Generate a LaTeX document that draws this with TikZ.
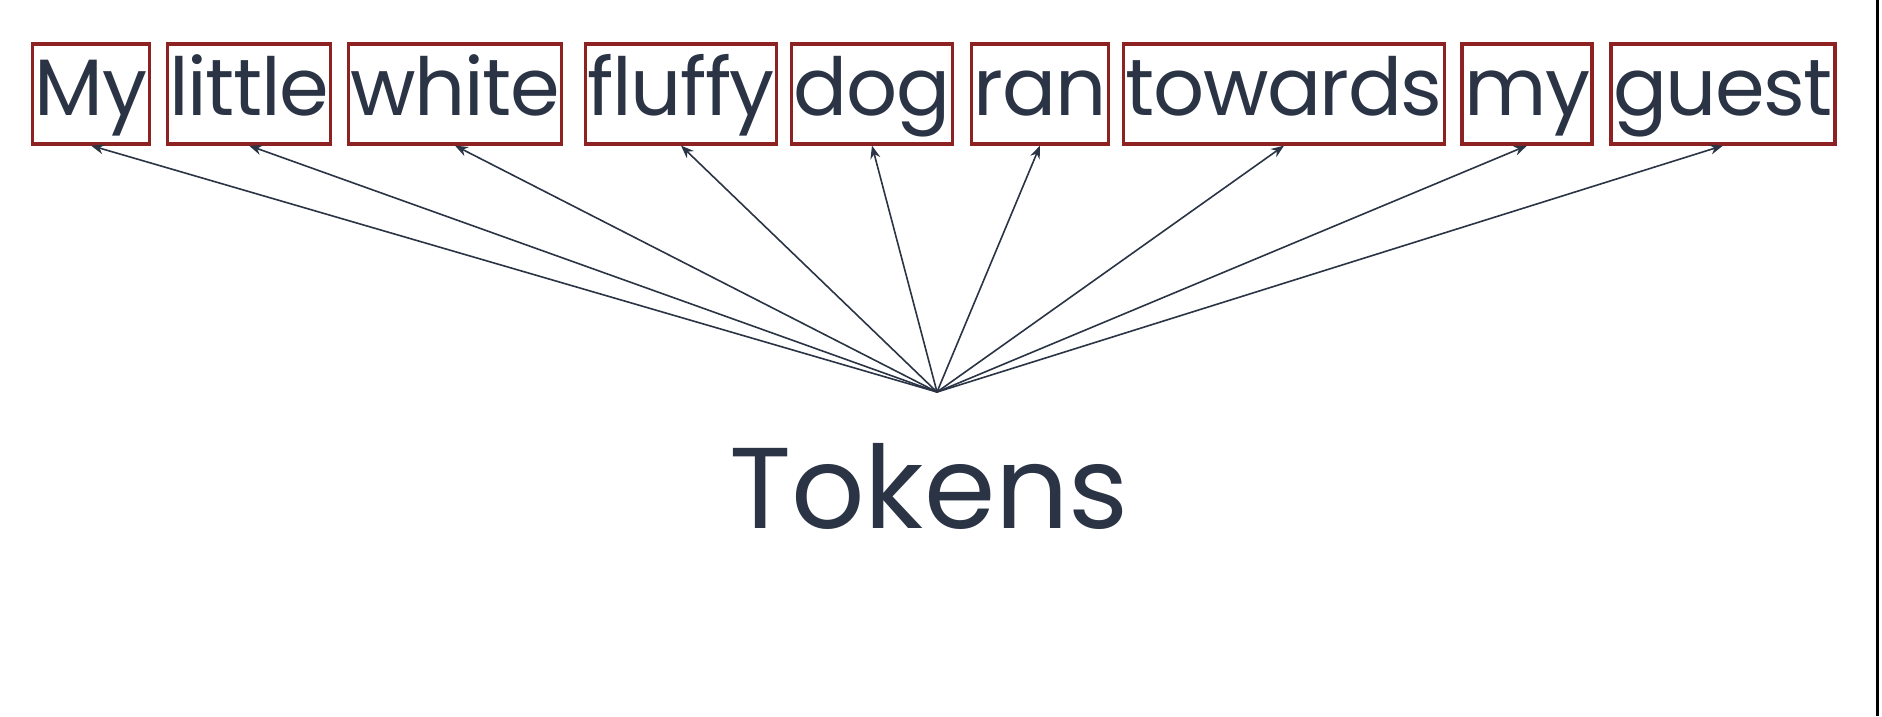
\documentclass[tikz,border=0pt]{standalone}
\usepackage{fontspec}
\setmainfont{Poppins}
\usepackage{xcolor}
\usetikzlibrary{arrows.meta}

\definecolor{inkblue}{HTML}{2B3445}
\definecolor{boxred}{HTML}{8E2222}

\begin{document}
\begin{tikzpicture}[
            x=1pt, y=-1pt,
            word/.style={draw=boxred, line width=3.2pt, text=inkblue,
                inner xsep=2pt, inner ysep=0pt, text height=71pt, text depth=29pt,
                font=\fontsize{80}{86}\selectfont\addfontfeatures{LetterSpace=-1.8}},
            link/.style={draw=inkblue, line width=1.6pt,
                -{Stealth[length=13pt,width=10pt]}}
        ]
            \useasboundingbox[fill=white] (0,0) rectangle (1882,716);
            \fill[black] (1876,0) rectangle (1879,716);
            % Words
            \node[word] (w1) at (  91, 94) {My};
            \node[word] (w2) at ( 249, 94) {little};
            \node[word] (w3) at ( 455, 94) {white};
            \node[word] (w4) at ( 681, 94) {fluffy};
            \node[word] (w5) at ( 872, 94) {dog};
            \node[word] (w6) at (1040, 94) {ran};
            \node[word] (w7) at (1284, 94) {towards};
            \node[word] (w8) at (1527, 94) {my};
            \node[word] (w9) at (1723, 94) {guest};
            % Label
            \coordinate (hub) at (937, 392);
            \node[text=inkblue, font=\fontsize{115}{122}\selectfont, anchor=base]
                (tok) at (929, 528) {Tokens};
            % Links
            \foreach \w in {w1,w2,w3,w4,w5,w6,w7,w8,w9}
                \draw[link] (hub) -- (\w.south);
        \end{tikzpicture}
\end{document}
